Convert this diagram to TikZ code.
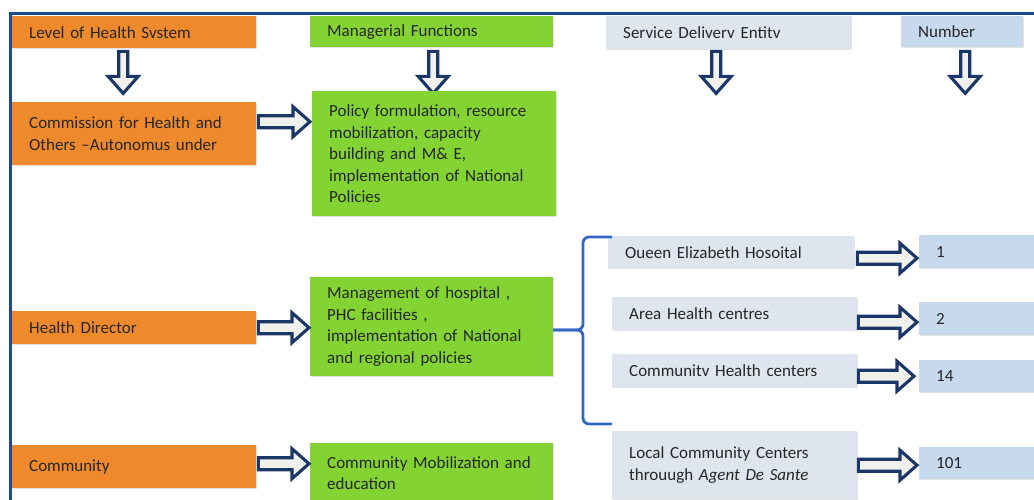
\documentclass[tikz,border=0pt]{standalone}
\usepackage{fontspec}
\setmainfont{Carlito}
\usetikzlibrary{calc,shadows}

\definecolor{lvlorange}{RGB}{239,138,44}
\definecolor{fngreen}{RGB}{131,211,51}
\definecolor{svcgray}{RGB}{222,229,238}
\definecolor{numblue}{RGB}{199,217,237}
\definecolor{arrownavy}{RGB}{27,55,104}
\definecolor{arrowfill}{RGB}{240,240,236}
\definecolor{bracketblue}{RGB}{50,104,196}
\definecolor{framenavy}{RGB}{31,74,135}

\tikzset{
	box/.style={anchor=north west, inner xsep=17pt, inner ysep=0pt, align=left,
		font=\fontsize{17}{21.5}\selectfont, text=black!85,
		drop shadow={shadow xshift=1.2pt, shadow yshift=-1.2pt, opacity=0.22}},
	lvlbox/.style={box, fill=lvlorange},
	fnbox/.style={box, fill=fngreen},
	svcbox/.style={box, fill=svcgray},
	numbox/.style={box, fill=numblue},
	hollow/.style={draw=arrownavy, line width=3.1pt, fill=arrowfill, line join=miter},
	% block arrow to the right, height taken from the start point
	rarrow/.style={hollow, to path={let \p1=(\tikztostart), \p2=(\tikztotarget) in
		(\x1,\y1+6pt) -- (\x2-17pt,\y1+6pt) -- (\x2-17pt,\y1+15pt) -- (\x2,\y1)
		-- (\x2-17pt,\y1-15pt) -- (\x2-17pt,\y1-6pt) -- (\x1,\y1-6pt) -- cycle}},
	% block arrow pointing down
	darrow/.style={hollow, to path={let \p1=(\tikztostart), \p2=(\tikztotarget) in
		(\x1-4.5pt,\y1) -- (\x1-4.5pt,\y2+17pt) -- (\x1-15pt,\y2+17pt) -- (\x1,\y2)
		-- (\x1+15pt,\y2+17pt) -- (\x1+4.5pt,\y2+17pt) -- (\x1+4.5pt,\y1) -- cycle}},
	bracket/.style={draw=bracketblue, line width=2.8pt, rounded corners=6pt},
}

\begin{document}
\begin{tikzpicture}[x=1pt, y=-1pt]
	\useasboundingbox (0,0) rectangle (1034,499);

	% Frame
	\draw[framenavy, line width=3pt] (10,502) -- (10,13) -- (1040,13);

	% Column headers
	\node[lvlbox, text width=210pt, minimum height=32pt] (hdlevel) at (12,16) {Level of Health Svstem};
	\node[fnbox, text width=209pt, minimum height=31pt] (hdfunc) at (310,16) {Managerial Functions};
	\node[svcbox, text width=211pt, minimum height=33pt] (hdservice) at (606,16) {Service Deliverv Entitv};
	\node[numbox, text width=88pt, minimum height=31pt] (hdnumber) at (901,16) {Number};

	\draw[darrow] ([xshift=-11pt,yshift=-3pt]hdlevel.south) to ([xshift=-11pt,yshift=-45pt]hdlevel.south);
	\draw[darrow] ([xshift=1.5pt,yshift=-4pt]hdfunc.south) to ([xshift=1.5pt,yshift=-46pt]hdfunc.south);
	\draw[darrow] ([xshift=-12.5pt,yshift=-2pt]hdservice.south) to ([xshift=-12.5pt,yshift=-44pt]hdservice.south);
	\draw[darrow] ([xshift=3pt,yshift=-4pt]hdnumber.south) to ([xshift=3pt,yshift=-46pt]hdnumber.south);

	% National level
	\node[lvlbox, text width=210pt, minimum height=63pt] (commission) at (12,102) {Commission for Health and\\Others --Autonomus under};
	\node[fnbox, text width=210pt, minimum height=125pt] (policy) at (312,91)
		{Policy formulation, resource\\mobilization, capacity\\building and M\& E,\\implementation of National\\Policies};
	\draw[rarrow] ([xshift=2pt,yshift=12pt]commission.east) to ([xshift=-2pt]policy.west);

	% Health director level
	\node[lvlbox, text width=210pt, minimum height=33pt] (director) at (12,311) {Health Director};
	\node[fnbox, text width=209pt, minimum height=99pt] (management) at (310,277)
		{Management of hospital ,\\PHC facilities ,\\implementation of National\\and regional policies};
	\draw[rarrow] ([xshift=2pt]director.east) to ([xshift=-1pt]management.west);

	% Community level
	\node[lvlbox, text width=210pt, minimum height=43pt] (community) at (12,445) {Community};
	\node[fnbox, text width=209pt, minimum height=60pt] (mobilization) at (310,443)
		{Community Mobilization and\\education};
	\draw[rarrow] ([xshift=2pt,yshift=3pt]community.east) to ([xshift=-1pt]mobilization.west);

	% Service delivery entities
	\node[svcbox, text width=212pt, minimum height=32pt] (qeh) at (608,236) {Oueen Elizabeth Hosoital};
	\node[svcbox, text width=211pt, minimum height=33pt] (ahc) at (612,297) {Area Health centres};
	\node[svcbox, text width=211pt, minimum height=33pt] (chc) at (612,354) {Communitv Health centers};
	\node[svcbox, text width=211pt, minimum height=68pt] (lcc) at (612,431)
		{Local Community Centers\\throuugh \textit{Agent De Sante}};

	% Brace grouping the facilities
	\draw[bracket] (612,237) -- (583,237) -- (583,330) -- (553,330);
	\draw[bracket] (553,330) -- (583,330) -- (583,424) -- (612,424);

	% Numbers
	\node[numbox, text width=96pt, minimum height=33pt] (n1) at (919,235) {1};
	\node[numbox, text width=96pt, minimum height=33pt] (n2) at (919,302) {2};
	\node[numbox, text width=96pt, minimum height=32pt] (n14) at (919,360) {14};
	\node[numbox, text width=96pt, minimum height=32pt] (n101) at (919,447) {101};

	\draw[rarrow] ([xshift=3pt,yshift=-6pt]qeh.east) to ([xshift=-2pt]n1.west);
	\draw[rarrow] ([xshift=1pt,yshift=-8.5pt]ahc.east) to ([xshift=-2pt]n2.west);
	\draw[rarrow] ([xshift=1pt,yshift=-5.5pt]chc.east) to ([xshift=-5pt]n14.west);
	\draw[rarrow] ([xshift=1pt]lcc.east) to ([xshift=-2pt]n101.west);
\end{tikzpicture}
\end{document}
